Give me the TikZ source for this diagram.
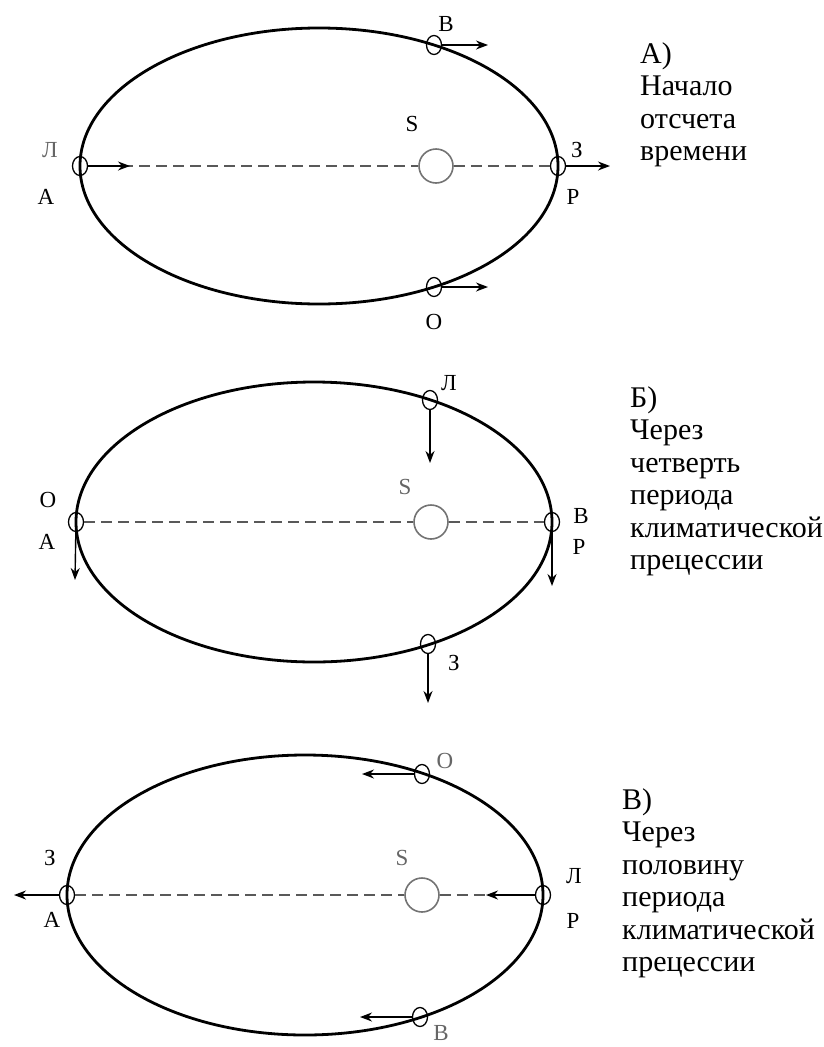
\documentclass[tikz,border=0pt]{standalone}
\usepackage{fontspec}
\setmainfont{Liberation Serif}
\usetikzlibrary{arrows.meta, positioning, shapes.geometric}

\begin{document}
\begin{tikzpicture}[x=1pt, y=-1pt, >={Stealth[length=12pt, width=9pt]}]
        \tikzstyle{orbit} = [line width=2.8pt]
        \tikzstyle{planet} = [ellipse, draw, line width=1.3pt, minimum width=15pt, minimum height=19pt, inner sep=0pt]
        \tikzstyle{sun} = [circle, draw=black!55, line width=1.6pt, minimum size=34pt, inner sep=0pt]
        \tikzstyle{lbl} = [font=\fontsize{23}{23}\selectfont, inner sep=0pt]
        \tikzstyle{axis} = [draw=black!65, line width=1.6pt, dash pattern=on 11pt off 6pt]
        \tikzstyle{move} = [->, line width=1.4pt]
        \tikzstyle{caption} = [align=left, anchor=north west, inner sep=0pt, font=\fontsize{30}{32.5}\selectfont]

        \useasboundingbox (0,0) rectangle (824,1047);

        % A) start of time count
        \draw [orbit] (319,166) ellipse [x radius=239, y radius=138];
        \node [sun] (sunA) at (436,166) {};
        \node [planet] (aphA) at (80,166) {};
        \node [planet] (periA) at (558,166) {};
        \node [planet] (springA) at (434,45) {};
        \node [planet] (autumnA) at (434,287) {};
        \coordinate (aphAend) at (130,166);
        \coordinate (periAend) at (610,166);
        \coordinate (springAend) at (488,45);
        \coordinate (autumnAend) at (488,287);
        \draw [axis] (aphA) -- (sunA);
        \draw [axis] (sunA) -- (periA);
        \draw [move] (aphA) -- (aphAend);
        \draw [move] (periA) -- (periAend);
        \draw [move] (springA) -- (springAend);
        \draw [move] (autumnA) -- (autumnAend);
        \node [lbl] (lblSA) at (412,124) {S};
        \node [lbl] (lblVA) at (446,24) {В};
        \node [lbl, text=black!60] (lblLA) at (50,150) {Л};
        \node [lbl] (lblAA) at (46,197) {А};
        \node [lbl] (lblZA) at (577,150) {З};
        \node [lbl] (lblPA) at (573,197) {Р};
        \node [lbl] (lblOA) at (434,322) {О};
        \node [caption] (capA) at (640,42) {А)\\Начало\\отсчета\\времени};

        % B) after a quarter of the period
        \draw [orbit] (314,522) ellipse [x radius=238, y radius=140];
        \node [sun] (sunB) at (431,522) {};
        \node [planet] (aphB) at (76,522) {};
        \node [planet] (periB) at (552,522) {};
        \node [planet] (summerB) at (430,400) {};
        \node [planet] (winterB) at (428,644) {};
        \coordinate (aphBend) at (75,580);
        \coordinate (periBend) at (552,586);
        \coordinate (summerBend) at (430,463);
        \coordinate (winterBend) at (428,703);
        \draw [axis] (aphB) -- (sunB);
        \draw [axis] (sunB) -- (periB);
        \draw [move] (aphB) -- (aphBend);
        \draw [move] (periB) -- (periBend);
        \draw [move] (summerB) -- (summerBend);
        \draw [move] (winterB) -- (winterBend);
        \node [lbl, text=black!60] (lblSB) at (405,487) {S};
        \node [lbl] (lblLB) at (449,383) {Л};
        \node [lbl] (lblOB) at (48,500) {О};
        \node [lbl] (lblAB) at (47,542) {А};
        \node [lbl] (lblVB) at (581,516) {В};
        \node [lbl] (lblPB) at (579,547) {Р};
        \node [lbl] (lblZB) at (454,663) {З};
        \node [caption] (capB) at (630,386) {Б)\\Через\\четверть\\периода\\климатической\\прецессии};

        % C) after half of the period
        \draw [orbit] (305,895) ellipse [x radius=238, y radius=140];
        \node [sun] (sunC) at (422,895) {};
        \node [planet] (aphC) at (67,895) {};
        \node [planet] (periC) at (543,895) {};
        \node [planet] (autumnC) at (422,774) {};
        \node [planet] (springC) at (420,1017) {};
        \coordinate (aphCend) at (14,895);
        \coordinate (periCend) at (486,895);
        \coordinate (autumnCend) at (362,774);
        \coordinate (springCend) at (360,1017);
        \draw [axis] (aphC) -- (sunC);
        \draw [axis] (sunC) -- (periC);
        \draw [move] (aphC) -- (aphCend);
        \draw [move] (periC) -- (periCend);
        \draw [move] (autumnC) -- (autumnCend);
        \draw [move] (springC) -- (springCend);
        \node [lbl, text=black!60] (lblSC) at (402,858) {S};
        \node [lbl, text=black!60] (lblOC) at (445,761) {О};
        \node [lbl] (lblZC) at (50,858) {З};
        \node [lbl] (lblAC) at (52,920) {А};
        \node [lbl] (lblLC) at (574,876) {Л};
        \node [lbl] (lblPC) at (573,921) {Р};
        \node [lbl, text=black!60] (lblVC) at (441,1033) {В};
        \node [caption] (capC) at (622,788) {В)\\Через\\половину\\периода\\климатической\\прецессии};
    \end{tikzpicture}
\end{document}
